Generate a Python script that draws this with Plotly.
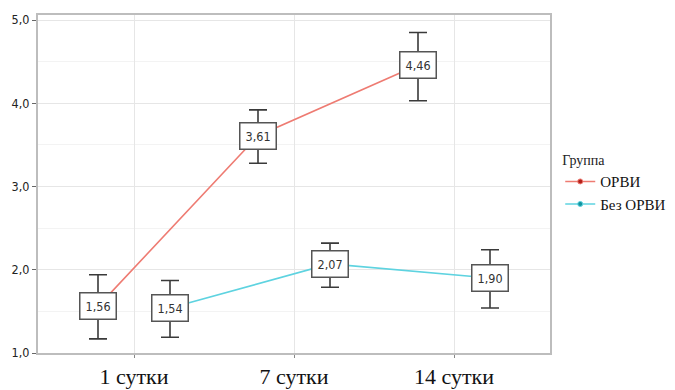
import plotly.graph_objects as go

# Days of observation (category labels)
days = ["1 сутки", "7 сутки", "14 сутки"]

# Group "ОРВИ": mean values and error bar extents
orvi_mean = [1.56, 3.61, 4.46]
orvi_err_plus = [0.38, 0.31, 0.39]
orvi_err_minus = [0.39, 0.33, 0.43]

# Group "Без ОРВИ": mean values and error bar extents
no_orvi_mean = [1.54, 2.07, 1.90]
no_orvi_err_plus = [0.33, 0.25, 0.34]
no_orvi_err_minus = [0.35, 0.28, 0.36]

group_names = ["ОРВИ", "Без ОРВИ"]
group_colors = ["#EE7B72", "#5ED3E0"]
marker_colors = ["#B2201A", "#12939E"]
dodge = 0.225

groups = [
    (orvi_mean, orvi_err_plus, orvi_err_minus),
    (no_orvi_mean, no_orvi_err_plus, no_orvi_err_minus),
]

SERIF = "Liberation Serif, Times New Roman, serif"

fig = go.Figure()
annotations = []
for gi, (means, ep, em) in enumerate(groups):
    offset = -dodge if gi == 0 else dodge
    xs = [i + offset for i in range(len(days))]
    fig.add_trace(go.Scatter(
        x=xs, y=means, name=group_names[gi], mode="lines+markers",
        line=dict(color=group_colors[gi], width=1.6),
        marker=dict(color=marker_colors[gi], size=5,
                    line=dict(color=group_colors[gi], width=1)),
        error_y=dict(type="data", symmetric=False, array=ep, arrayminus=em,
                     color="#3a3a3a", thickness=1.6, width=9),
    ))
    # value label in a white box centred on each mean
    for x, m in zip(xs, means):
        annotations.append(dict(
            x=x, y=m, xref="x", yref="y", showarrow=False,
            text=f"{m:.2f}".replace(".", ","),
            font=dict(family="DejaVu Sans Condensed, DejaVu Sans", size=12.5, color="#333333"),
            bgcolor="white", bordercolor="#555555", borderwidth=1.5, borderpad=5,
        ))

fig.update_layout(
    width=675, height=390,
    margin=dict(l=38, r=125, t=15, b=37, autoexpand=False),
    paper_bgcolor="white", plot_bgcolor="white",
    separators=", ",
    font=dict(family=SERIF),
    annotations=annotations,
    legend=dict(
        title=dict(text="Группа", font=dict(family=SERIF, size=14, color="#222")),
        font=dict(family=SERIF, size=15, color="#111"),
        x=1.02, y=0.5, xanchor="left", yanchor="middle",
        tracegroupgap=0, itemwidth=30,
    ),
    xaxis=dict(
        range=[-0.6, 2.6], automargin=False,
        tickvals=list(range(len(days))), ticktext=days,
        tickfont=dict(family=SERIF, size=22, color="#111"),
        showgrid=True, gridcolor="#e6e6e6", gridwidth=1,
        showline=True, linecolor="#bdbdbd", linewidth=2, mirror=True,
        ticks="outside", ticklen=3, tickcolor="#888", zeroline=False,
    ),
    yaxis=dict(
        range=[1.0, 5.06], automargin=False,
        tickvals=[1, 2, 3, 4, 5], tickformat=".1f",
        tickfont=dict(family="DejaVu Sans Condensed, DejaVu Sans", size=12.5, color="#222"),
        showgrid=True, gridcolor="#e6e6e6", gridwidth=1,
        minor=dict(dtick=0.5, tick0=1.5, showgrid=True, gridcolor="#f3f3f3", gridwidth=1),
        showline=True, linecolor="#bdbdbd", linewidth=2, mirror=True,
        ticks="outside", ticklen=4, tickcolor="#666", zeroline=False,
    ),
)

fig.write_html("out.html")
